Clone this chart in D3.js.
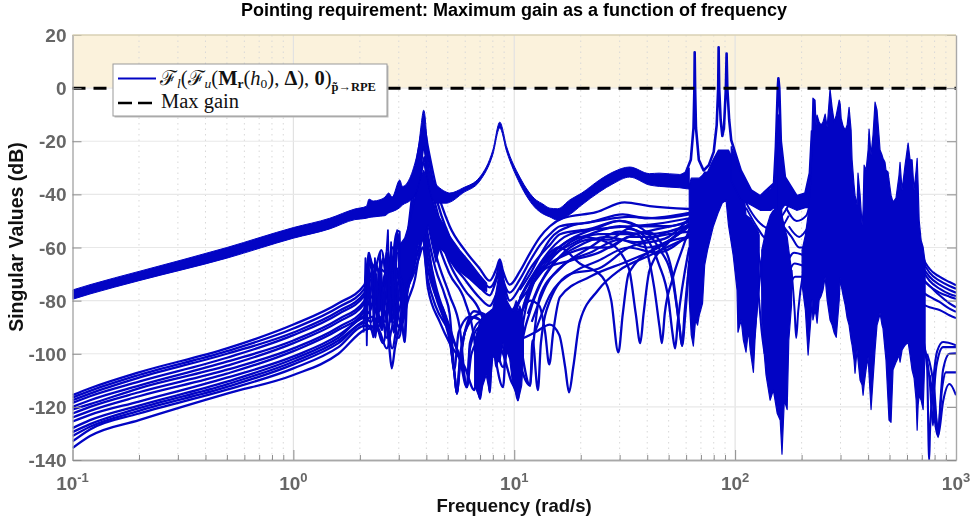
<!DOCTYPE html>
<html>
<head>
<meta charset="utf-8">
<script src="https://cdn.jsdelivr.net/npm/d3@7"></script>
<style>
  body { margin: 0; background: #fff; }
  svg { display: block; filter: blur(0.35px); }
  text { font-family: "Liberation Sans", sans-serif; }
  .tick-label { font-size: 19px; font-weight: bold; fill: #666; }
  .tick-label .sup { font-size: 13px; }
  .axis-title { font-weight: bold; fill: #111; }
  .legend-text { font-family: "Liberation Serif", "DejaVu Serif", serif; font-size: 20.5px; fill: #111; }
</style>
</head>
<body>
<script>
const margin = { top: 35, bottom: 62, left: 72.5, right: 16 };
const width = 972 - margin.left - margin.right;
const height = 522 - margin.top - margin.bottom;
const blue = '#0204c4';

const titleText = 'Pointing requirement: Maximum gain as a function of frequency';
const xLabelText = 'Frequency (rad/s)';
const yLabelText = 'Singular Values (dB)';
const yTicks = [20, 0, -20, -40, -60, -80, -100, -120, -140];
const xDecades = [-1, 0, 1, 2, 3];
const maxGain = 0;

// main band: [freq, top dB, bottom dB]
const upperBand = [
  [0.1, -76, -79.5], [0.12, -74, -77.5], [0.2, -69, -72.5], [0.5, -60, -64], [1, -52.5, -56.5],
  [1.46, -49, -53], [1.9, -45.5, -49.5], [2.14, -44.5, -49], [2.2, -41.8, -48.7], [2.3, -42.5, -48.5],
  [2.47, -42, -48.2], [2.6, -41, -48], [2.7, -39.5, -47], [2.8, -41, -46.5], [3.03, -34.6, -45],
  [3.12, -37, -44], [3.36, -34, -42.5], [3.5, -30, -41], [3.7, -21, -36], [3.8, -13, -30],
  [3.85, -9.5, -24], [3.89, -8.3, -22], [3.93, -9.5, -24], [4.02, -19, -32], [4.15, -31, -39],
  [4.45, -36.5, -43.3], [4.6, -37.6, -43.3], [4.95, -39.2, -43.3], [5.1, -39.5, -43], [5.85, -37.6, -39.5],
  [6.98, -33.5, -35], [8, -23.3, -25], [8.6, -12.8, -15], [9.25, -22.2, -24], [10.6, -33.5, -36],
  [12.6, -42.2, -45.5], [13.4, -43.5, -47.2], [14.5, -45.2, -48.5], [15.7, -45.4, -49.7], [17.9, -42, -47.5],
  [20.2, -39.5, -44], [24.4, -34.5, -39], [28, -31.6, -36], [33.3, -29.7, -33.5], [41, -32.2, -36.5],
  [45.4, -32, -37], [56, -32.5, -37.5], [62, -30, -38]
];

// top line with the four narrow resonances
const spikeLine = [
  [60, -31.5], [63, -27], [64.8, -15], [65.4, 0], [65.6, 13.5], [65.9, 0], [66.5, -15], [68.5, -27], [72, -31],
  [76, -29], [80, -24], [82.5, -14], [83.8, 0], [84.2, 15.4], [84.7, 0], [86, -12], [87.5, -18], [89, -15],
  [90.8, 0], [91.5, 13], [92.2, 0], [94, -12], [96, -19.6], [106, -31], [118, -38.5], [130, -40.7], [150, -35.9],
  [153, -22], [156, 0], [157, 3.7], [158.5, 0], [161, -20], [168, -33.5], [190, -40.7], [208, -39.7], [218, -32], [223, -16]
];

// solid regions where the curves pile up: [freq, top dB, bottom dB]
const corePeak = [
  [3.03, -59, -70], [3.19, -56.5, -74], [3.36, -50.5, -72], [3.54, -42, -66.6], [3.66, -36.5, -59], [3.89, -31, -57],
  [4.06, -34.6, -51.6], [4.24, -42, -59], [4.42, -46.7, -65.5], [4.6, -49, -60], [4.85, -52, -62], [5.1, -55.7, -65],
  [5.66, -61, -69], [6.29, -65.5, -72], [6.98, -70.4, -75.5], [7.5, -73.4, -76.5]
];
const coreMid = [
  [6.62, -95, -112], [6.98, -88, -117], [7.2, -86, -112], [7.46, -85, -108], [7.74, -84, -114.5], [8, -83, -101],
  [8.3, -76, -102], [8.45, -72, -103], [8.6, -64.5, -103], [8.9, -70, -96], [9.06, -76, -105], [9.25, -80, -99],
  [9.54, -82, -102], [9.85, -84, -112], [10.2, -80, -115], [10.4, -84, -117.5], [10.6, -82, -115], [10.8, -84, -112], [11, -90, -102]
];
const coreSpikes = [
  [62, -36.5, -79.8], [63.3, -33.9, -93], [64.7, -33.9, -97.1], [66.2, -33.9, -87.3], [67.6, -33.9, -89.2],
  [68.8, -33.9, -85.5], [71.2, -32.8, -81], [72.8, -31.6, -66.6], [75, -31.6, -61], [79.5, -27, -52.3],
  [84, -23.3, -46.7], [87.4, -23.3, -43.3], [91, -23.3, -42.2], [93.3, -23.3, -51.6], [98, -27, -62.9],
  [102, -32.8, -76], [103, -32.8, -91.9], [106.5, -34.6, -87.3], [109, -36.5, -94.9], [112, -47.8, -99.4],
  [115, -48.5, -91.1], [117, -49, -98.6], [121, -51, -107], [123, -52, -94.9], [126, -53, -81.7], [128.5, -55.3, -74.2]
];
const coreValleyLeft = [
  [96, -22, -35], [106, -31, -42], [118, -38.5, -44], [130, -40.7, -46], [145, -38, -46], [150, -36, -45], [153, -24, -48], [157, -12, -50]
];
const coreValleyRight = [
  [157, -12, -50], [161, -22, -46], [168, -33.5, -44], [190, -40.7, -46], [208, -39.7, -45], [218, -32, -45], [223, -16, -45]
];
const coreMiddle = [
  [132, -61, -87.3], [135, -57.2, -98.6], [138, -53, -108], [144, -48, -117.5], [149, -46, -113.7],
  [155, -46, -122.4], [160, -46, -125], [163, -48, -137.8], [167, -52, -117.5], [172, -56, -121],
  [175, -61, -94.9], [180, -68.5, -81.7]
];
const coreCluster = [
  [201, -61, -74.2], [208, -55.3, -83.6], [214, -47.8, -100.5], [221, -32.8, -85.5], [223, -15.8, -79.8],
  [225, -3.8, -87.3], [230, -4.5, -83.6], [232.5, -13.9, -85.5], [235, -10.2, -88.5], [240, -12.8, -79.8],
  [245, -13.9, -78.3], [250, -12.8, -76], [255.6, -9.8, -71.2], [261, -14.7, -79.8], [269, -0.4, -87.3],
  [275, -7.5, -89.2], [281, -12.8, -92.2], [287, -10.2, -93.8], [296, -4.5, -79.8], [299, -6, -71.5],
  [302, -11.3, -74.2], [308, -14.3, -77.9], [315, -15.8, -81.7], [321.5, -13.9, -86.6], [328, -7.2, -89.2],
  [335, -15.8, -94.9], [338.5, -27, -96.8], [345.5, -36.5, -102.4], [349, -40.3, -107.3], [356.5, -44, -98.6],
  [360, -32, -102.4], [368, -40.3, -110], [375.7, -51.6, -111.8], [379.6, -45.9, -115.6], [383.6, -29, -111.8],
  [391.6, -30.9, -106], [400, -23.3, -101.3], [404, -15.4, -108], [412.5, -25.2, -121], [421, -17.7, -110],
  [430, -5.3, -98.6], [439, -8.3, -89.2], [448, -17.7, -86.6], [453, -23.3, -84.7], [462.5, -25.2, -89.2],
  [467, -26.4, -90.4], [477, -27.9, -98.6], [482, -30.9, -102.4], [492.3, -31.6, -117.5], [497.5, -34.6, -125],
  [508, -40.3, -125.8], [518.7, -42.9, -106], [535, -41.4, -103.2], [540.8, -38.4, -102.4], [552, -32.8, -100.5],
  [558, -27.9, -103.2], [570, -38.4, -98.6], [588, -29, -96.8], [607, -20.7, -95.6], [619.5, -27, -100.5],
  [632.6, -27, -106.2], [646, -38.4, -109.2], [660, -30.9, -117.5], [667, -26.4, -128.8], [673.8, -36.5, -119.4],
  [681, -49.7, -115.6], [695, -57.2, -117.5], [710, -59.9, -121], [724.7, -65.5, -98.6]
];

// lower family, low frequency part: one row per curve
const lowFreq = [0.1, 0.12, 0.2, 0.5, 1, 1.6, 2.1];
const lowCurves = [
  [-115.6, -113, -107, -98, -89, -81, -74],
  [-116.5, -114, -108, -99, -90.5, -82.5, -75.5],
  [-117.5, -115, -109, -100, -92, -84, -77],
  [-118.5, -116, -110.5, -101.5, -93, -85, -78],
  [-120, -117.5, -112, -103, -95, -87, -80],
  [-121, -119, -113, -104.5, -96, -88, -81],
  [-122.5, -120, -114.5, -106, -98, -90, -83],
  [-124, -121.5, -116, -107.5, -99, -91, -84],
  [-125.5, -123, -118, -109, -101, -93, -85.5],
  [-128, -125, -119.5, -110.5, -102, -94, -86.5],
  [-129.5, -126.5, -120.5, -111.5, -103, -95, -87.5],
  [-131, -127.5, -121.5, -112.5, -104, -96, -88.5],
  [-133, -128.5, -122.5, -113.5, -105.5, -97.5, -89.5],
  [-135.5, -131, -125, -115, -108, -100, -91]
];
// same curves above 2 rad/s: [freq, dB]
const midCurves = [
  [[2.2, -62], [2.3, -70], [2.5, -61], [2.7, -75], [2.95, -54], [3.1, -70], [3.3, -54], [3.55, -32], [3.75, -20], [3.89, -14], [4.06, -22], [4.4, -36], [5.1, -52], [5.97, -61], [6.98, -68], [7.74, -72.5], [8.3, -68], [8.6, -64.5], [8.9, -69], [9.54, -74], [10.6, -69], [11.8, -62], [13.1, -56], [14.5, -52], [16.6, -49], [23.5, -46.7], [31.6, -43], [41, -44.4], [62, -45.5]],
  [[2.2, -72], [2.35, -66], [2.6, -80], [2.8, -60], [3, -72], [3.25, -58], [3.55, -38], [3.75, -24], [3.89, -18], [4.06, -25], [4.4, -40], [5.1, -56], [5.97, -65], [6.98, -71], [7.74, -75], [8.3, -71], [8.6, -66], [8.9, -72], [9.54, -77], [10.6, -72], [11.8, -65], [13.1, -59], [14.5, -55], [16.1, -52], [22, -50.5], [31, -47.5], [40, -49], [62, -47]],
  [[2.22, -64], [2.4, -78], [2.55, -64], [2.72, -84], [2.95, -56], [3.15, -76], [3.35, -56], [3.6, -40], [3.8, -27], [3.89, -22], [4.06, -30], [4.4, -44], [5.1, -60], [5.97, -69], [6.98, -75], [7.74, -78], [8.6, -70], [9.54, -80], [10.6, -75], [11.8, -68], [13.1, -63], [14.5, -59], [16.1, -55], [22, -53], [30, -50], [38, -53], [45, -60], [52, -72], [56, -90], [57.5, -97], [59.5, -85], [62, -65]],
  [[2.25, -70], [2.35, -93.8], [2.45, -68], [2.7, -70], [2.95, -62], [3.19, -95.6], [3.3, -70], [3.6, -44], [3.85, -29], [3.92, -26], [4.06, -34], [4.4, -47], [5.1, -64], [5.97, -72], [6.98, -79], [7.74, -82], [8.6, -76], [9.54, -84], [10.6, -80], [11.8, -75], [13.1, -70], [14.5, -65], [17.9, -58], [22, -55], [30, -52], [38, -55], [45, -66], [50, -80], [52, -92], [53.5, -98], [55, -88], [62, -60]],
  [[2.2, -66], [2.35, -76], [2.52, -91], [2.65, -62], [2.75, -82], [2.95, -58], [3.1, -78], [3.3, -56], [3.6, -42], [3.8, -30], [3.89, -28], [4.06, -36], [4.4, -50], [5.1, -66], [5.97, -76], [6.98, -84], [7.5, -92], [7.74, -114.5], [7.95, -95], [8.6, -86], [9.54, -90], [10.05, -112], [10.3, -95], [11.2, -80], [12.4, -70], [14.5, -63], [17.9, -57], [24, -52.5], [30, -50], [38, -52], [50, -52], [62, -50]],
  [[2.2, -78], [2.4, -68], [2.6, -85], [2.8, -65], [3, -80], [3.2, -62], [3.6, -45], [3.85, -33], [4.06, -42], [4.4, -55], [5.1, -70], [5.97, -80], [6.6, -95], [7, -117], [7.3, -100], [8, -88], [8.6, -80], [9.54, -92], [10.4, -117.5], [10.7, -100], [11.8, -84], [13.1, -74], [14.5, -68], [17.9, -60], [22, -57], [27, -57], [33, -53], [41, -55], [50, -54], [62, -52]],
  [[2.25, -72], [2.45, -84], [2.6, -70], [2.8, -88], [2.95, -68], [3.15, -84], [3.35, -64], [3.6, -50], [3.85, -38], [4.06, -48], [4.4, -62], [5.1, -78], [5.66, -90], [6.1, -112.6], [6.3, -98], [7, -90], [7.7, -92], [8.9, -112.6], [9.2, -95], [10, -85], [11.8, -72], [14.5, -66], [17.9, -62], [22, -60], [27, -60], [33, -56], [41, -56], [50, -55], [62, -54]],
  [[2.3, -78], [2.5, -90], [2.7, -72], [2.85, -92], [3, -72], [3.2, -80], [3.4, -62], [3.65, -52], [3.85, -42], [4.06, -55], [4.4, -68], [4.85, -78], [5.1, -85], [5.37, -108], [5.5, -115], [5.66, -104], [5.97, -92], [6.6, -84], [7.3, -85], [8, -90], [8.3, -105], [8.6, -92], [10, -88], [11.8, -112], [12.1, -100], [13.1, -78], [16.1, -68], [22, -60], [30, -54], [36, -55], [40, -62], [43, -75], [45.5, -90], [46.6, -96], [48, -85], [52, -72], [58, -60], [64, -50]],
  [[2.22, -84], [2.4, -74], [2.6, -88], [2.8, -76], [3, -90], [3.2, -70], [3.45, -60], [3.7, -52], [3.85, -46], [4.06, -60], [4.4, -74], [5.1, -90], [5.7, -103], [6.1, -112.6], [6.4, -100], [7, -95], [8, -95], [8.9, -105], [9.5, -92], [10.6, -80], [12.4, -70], [15, -62], [19.8, -56], [27, -58.4], [33, -67.8], [35.5, -85], [37.2, -96], [38.5, -85], [41, -68.5], [50, -58], [62, -51]],
  [[2.25, -88], [2.45, -80], [2.65, -94], [2.85, -76], [3.05, -88], [3.25, -74], [3.5, -62], [3.7, -56], [3.85, -50], [4.06, -64], [4.4, -78], [4.85, -88], [5.1, -95], [5.37, -108], [5.5, -115], [5.7, -100], [6.3, -88], [7, -85], [8, -90], [9, -95], [10.05, -105], [10.4, -112], [10.7, -95], [12.4, -72], [14.5, -62], [16, -60], [19.8, -66], [25, -71], [27.5, -80], [29.6, -99.5], [31, -85], [33, -69.7], [44, -60], [62, -56]],
  [[2.3, -86], [2.55, -96], [2.75, -80], [3, -94], [3.2, -80], [3.5, -68], [3.7, -60], [3.85, -55], [4.06, -68], [4.4, -78], [4.85, -85], [5.1, -94], [5.37, -108], [5.5, -115], [5.66, -106], [5.97, -92], [6.6, -86], [7.5, -90], [8.6, -95], [10, -95], [12.4, -92], [14.5, -89], [16, -93], [17, -105], [17.7, -114.5], [18.5, -105], [19.8, -88], [24, -76], [30, -68.5], [41, -63], [62, -56]],
  [[2.35, -92], [2.6, -84], [2.8, -98], [3, -84], [3.25, -76], [3.5, -70], [3.7, -64], [3.85, -60], [4.06, -72], [4.4, -82], [5.1, -92], [5.8, -104], [6.1, -112.6], [6.3, -96], [7, -88], [8, -90], [9.5, -90], [10.6, -85], [11.8, -80], [13, -82], [13.8, -92], [14.4, -104], [15, -92], [16.1, -78.7], [22, -71], [33, -65], [45, -60], [62, -52]],
  [[2.4, -90], [2.65, -98], [2.85, -88], [3.05, -90], [3.3, -80], [3.55, -72], [3.75, -60], [3.85, -56], [4.06, -75], [4.6, -88], [5.1, -96], [5.97, -105], [6.6, -113.7], [6.9, -100], [7.7, -90], [8.9, -100], [10, -112], [10.3, -95], [11.8, -76], [13.8, -68], [17.9, -65], [24, -62], [33, -56], [40, -54], [46, -58], [52, -70], [56, -90], [57.5, -97], [59, -85], [64, -55]],
  [[2.3, -90], [2.6, -85], [2.72, -98], [2.79, -105.5], [2.88, -98], [3.2, -82], [3.4, -70], [3.6, -60], [3.8, -50], [3.89, -48], [4.06, -58], [4.3, -72], [4.7, -84], [5.1, -93], [5.35, -106], [5.6, -92], [6.3, -86], [7.5, -88], [9, -88], [11.8, -112], [12.1, -95], [12.8, -113.7], [13.2, -96], [14.5, -80], [17.9, -70], [24, -68], [33, -60], [50, -56], [62, -49]]
];

// extra plateau curves rising out of the 10 rad/s notches
const plateauCurves = [
  [[10.6, -76], [11.8, -70], [13.1, -63], [14.5, -57], [17.9, -52], [24, -50], [33, -48.5], [45, -49], [62, -47.5]],
  [[10.6, -79], [11.8, -72], [13.1, -66], [14.5, -61], [17.9, -55], [24, -53], [33, -52], [45, -51], [62, -49]],
  [[11, -82], [12.4, -72], [14.5, -64], [17.9, -59], [24, -55], [33, -55], [45, -53], [62, -50.5]],
  [[11.5, -85], [13, -74], [15, -66], [19, -60], [26, -56], [36, -58], [50, -54], [62, -51.5]],
  [[12, -88], [14, -74], [17, -66], [22, -62], [30, -57], [40, -60], [60, -53]],
  [[12.4, -92], [14.5, -78], [18, -70], [24, -65], [33, -60], [44, -62], [62, -55]]
];

// zigzag columns between 2 and 3.3 rad/s
const jitterLines = [
  [[2.08, -92], [2.12, -64], [2.15, -96.8], [2.19, -62], [2.24, -90], [2.3, -93.8], [2.34, -64], [2.42, -88], [2.47, -62], [2.52, -91], [2.6, -70], [2.68, -53.5], [2.74, -88], [2.79, -70], [2.86, -85], [2.95, -53.5], [3.03, -54], [3.1, -88], [3.19, -95.6], [3.27, -60]],
  [[2.1, -78], [2.14, -90], [2.18, -70], [2.22, -86], [2.27, -66], [2.32, -88], [2.38, -70], [2.44, -84], [2.5, -68], [2.56, -84], [2.64, -62], [2.71, -80], [2.77, -58], [2.83, -82], [2.9, -60], [2.98, -84], [3.06, -62], [3.14, -84], [3.22, -66]]
];

// thinner arcs under the resonance valleys and the bubble around 190 rad/s
const valleyArcs = [
  [[105, -38], [117, -46], [130, -51], [144, -53], [157, -50], [175, -44]],
  [[112, -45], [125, -52], [140, -57], [155, -55], [175, -48]],
  [[150, -55], [155, -30], [157, -10], [159, -30], [165, -55]],
  [[170, -45], [190, -50], [210, -48], [222, -40]],
  [[175, -52], [195, -56], [215, -52]],
  [[165, -52], [180, -56], [195, -60], [212, -60]],
  [[165, -70], [185, -62], [205, -63]],
  [[168, -74], [186, -66], [205, -67]],
  [[172, -78], [187, -71], [204, -71]],
  [[180, -68.5], [186, -84], [189, -94], [193, -84], [204, -68.5]],
  [[118, -60], [126, -72], [132, -92], [136, -100]],
  [[122, -58], [130, -66], [134, -80], [137, -95]],
  [[120, -100], [126, -82], [132, -65], [140, -58]]
];

// falling curves at the right end
const tailFreq = [667, 688, 710, 759, 842, 934, 1000];
const tailCurves = [
  [-52, -58, -63.6, -68, -71, -73, -74.2],
  [-58, -63, -65.5, -69.5, -72.5, -74.5, -75.5],
  [-62, -65, -67.5, -71, -74, -76, -77],
  [-65, -67, -69, -72.5, -75.5, -77.5, -78.3],
  [-70, -71, -72, -74.5, -77, -78.5, -79.3],
  [-70, -71.5, -72.5, -74.5, -78, -81, -82.5],
  [-74, -76, -77, -78.5, -80.5, -83, -84.2],
  [-79, -81, -81.5, -82.5, -83.5, -85.5, -86.6]
];
const lowTails = [
  [[684, -90], [740, -105], [752, -135], [756, -140], [762, -130], [780, -116], [822, -99], [874, -95.6], [1000, -96.8]],
  [[700, -95], [760, -110], [787, -127], [800, -112], [822, -103], [874, -97.5], [1000, -97.5]],
  [[740, -100], [800, -115], [830, -131.4], [850, -118], [874, -106], [934, -100], [1000, -99.8]],
  [[760, -108], [800, -120], [830, -128], [866, -112.6], [900, -107], [1000, -107]],
  [[780, -115], [830, -131], [874, -118], [934, -111.4], [1000, -115.6]]
];

const svg = d3.select('body').append('svg')
  .attr('width', 972)
  .attr('height', 522);
const root = svg.append('g').attr('transform', `translate(${margin.left},${margin.top})`);

const xscale = d3.scaleLog().domain([0.1, 1000]).range([0, width]);
const yscale = d3.scaleLinear().domain([-140, 20]).range([height, 0]);

// minor ticks 2..9 per decade
const xMajor = xDecades.map((d) => Math.pow(10, d));
const xMinor = [];
xDecades.slice(0, -1).forEach((d) => {
  d3.range(2, 10).forEach((m) => xMinor.push(m * Math.pow(10, d)));
});

//shaded area above the limit
root.append('rect')
  .attr('x', 0)
  .attr('y', yscale(20))
  .attr('width', width)
  .attr('height', yscale(maxGain) - yscale(20))
  .attr('fill', '#fbf2dc');

//grid
root.append('g').selectAll('line').data(xMinor).enter().append('line')
  .attr('x1', xscale).attr('x2', xscale)
  .attr('y1', 0).attr('y2', height)
  .attr('stroke', '#d8d8d8')
  .attr('stroke-width', 1)
  .attr('stroke-dasharray', '1.5,4');
root.append('g').selectAll('line').data(xMajor.slice(1, -1)).enter().append('line')
  .attr('x1', xscale).attr('x2', xscale)
  .attr('y1', 0).attr('y2', height)
  .attr('stroke', '#e2e2e2')
  .attr('stroke-width', 1.2);
root.append('g').selectAll('line').data(yTicks.slice(1, -1)).enter().append('line')
  .attr('x1', 0).attr('x2', width)
  .attr('y1', yscale).attr('y2', yscale)
  .attr('stroke', '#e8e8e8')
  .attr('stroke-width', 1.2);

//curves
svg.append('defs').append('clipPath').attr('id', 'plot')
  .append('rect').attr('width', width).attr('height', height);
const chart = root.append('g').attr('clip-path', 'url(#plot)');

const line = d3.line()
  .x((d) => xscale(d[0]))
  .y((d) => yscale(d[1]))
  .curve(d3.curveMonotoneX);
const spikes = d3.line()
  .x((d) => xscale(d[0]))
  .y((d) => yscale(d[1]));
const bandArea = d3.area()
  .x((d) => xscale(d[0]))
  .y0((d) => yscale(d[2]))
  .y1((d) => yscale(d[1]));

const drawLines = (rows, gen, w) => {
  chart.append('g').selectAll('path').data(rows).enter().append('path')
    .attr('d', gen)
    .attr('fill', 'none')
    .attr('stroke', blue)
    .attr('stroke-width', w)
    .attr('stroke-linejoin', 'round');
};

const familyCurves = lowCurves.map((row, i) =>
  row.map((v, j) => [lowFreq[j], v]).concat(midCurves[i]));
drawLines(familyCurves, line, 2.3);
drawLines(plateauCurves, line, 2.2);
drawLines(jitterLines, spikes, 1.8);
drawLines(valleyArcs, line, 2);
drawLines(tailCurves.map((row) => row.map((v, j) => [tailFreq[j], v])), line, 2.1);
drawLines(lowTails, line, 2.1);

[corePeak, coreMid, coreSpikes, coreValleyLeft, coreValleyRight, coreMiddle, coreCluster].forEach((rows) => {
  chart.append('path').datum(rows)
    .attr('d', bandArea)
    .attr('fill', blue)
    .attr('stroke', blue)
    .attr('stroke-width', 1.2)
    .attr('stroke-linejoin', 'round');
});

chart.append('path').datum(upperBand)
  .attr('d', bandArea.curve(d3.curveMonotoneX))
  .attr('fill', blue)
  .attr('stroke', blue)
  .attr('stroke-width', 1);
drawLines([spikeLine], spikes, 2.6);

//limit line
root.append('line')
  .attr('x1', 0).attr('x2', width)
  .attr('y1', yscale(maxGain)).attr('y2', yscale(maxGain))
  .attr('stroke', '#000')
  .attr('stroke-width', 3)
  .attr('stroke-dasharray', '13,8');

//axes
const xaxis = d3.axisBottom(xscale).tickValues(xMajor).tickSizeInner(-10).tickSizeOuter(0).tickFormat('');
const xaxisMinor = d3.axisBottom(xscale).tickValues(xMinor).tickSizeInner(-5).tickSizeOuter(0).tickFormat('');
const yaxis = d3.axisLeft(yscale).tickValues(yTicks).tickSizeInner(-9).tickSizeOuter(0).tickFormat('');
const yaxisRight = d3.axisRight(yscale).tickValues(yTicks).tickSizeInner(-9).tickSizeOuter(0).tickFormat('');

const styleAxis = (g) => {
  g.selectAll('path').attr('stroke', '#a8a8a8').attr('stroke-width', 1.4);
  g.selectAll('line').attr('stroke', '#8c8c8c').attr('stroke-width', 1);
};
root.append('g').attr('transform', `translate(0,${height})`).call(xaxis).call(styleAxis);
root.append('g').attr('transform', `translate(0,${height})`).call(xaxisMinor).call(styleAxis);
root.append('g').call(yaxis).call(styleAxis);
root.append('g').attr('transform', `translate(${width},0)`).call(yaxisRight).call(styleAxis);
root.append('line')
  .attr('x1', 0).attr('x2', width)
  .attr('y1', 0).attr('y2', 0)
  .attr('stroke', '#d9d0b4')
  .attr('stroke-width', 1.4);

//tick labels
root.append('g').selectAll('text').data(yTicks).enter().append('text')
  .attr('class', 'tick-label')
  .attr('x', -6)
  .attr('y', (d) => yscale(d) + 7)
  .attr('text-anchor', 'end')
  .text((d) => d);
const xLabels = root.append('g').selectAll('text').data(xDecades).enter().append('text')
  .attr('class', 'tick-label')
  .attr('x', (d) => xscale(Math.pow(10, d)))
  .attr('y', height + 30)
  .attr('text-anchor', 'middle');
xLabels.append('tspan').text('10');
xLabels.append('tspan').attr('class', 'sup').attr('dy', -8).text((d) => d);

//titles
svg.append('text')
  .attr('x', 514).attr('y', 16)
  .attr('text-anchor', 'middle')
  .attr('font-size', 18)
  .attr('font-weight', 'bold')
  .attr('fill', '#000')
  .text(titleText);
svg.append('text').attr('class', 'axis-title')
  .attr('x', 514).attr('y', 512)
  .attr('font-size', 18.5)
  .attr('text-anchor', 'middle')
  .text(xLabelText);
svg.append('text').attr('class', 'axis-title')
  .attr('transform', 'translate(23,237) rotate(-90)')
  .attr('font-size', 19.5)
  .attr('text-anchor', 'middle')
  .text(yLabelText);

//legend
const legend = svg.append('g');
legend.append('rect')
  .attr('x', 114.5).attr('y', 65.5)
  .attr('width', 274).attr('height', 52)
  .attr('fill', '#bbb');
legend.append('rect')
  .attr('x', 113).attr('y', 64)
  .attr('width', 274).attr('height', 52)
  .attr('fill', '#fff')
  .attr('stroke', '#9a9a9a')
  .attr('stroke-width', 1);
legend.append('line')
  .attr('x1', 118).attr('x2', 156).attr('y1', 78.5).attr('y2', 78.5)
  .attr('stroke', blue).attr('stroke-width', 2.2);
legend.append('line')
  .attr('x1', 118).attr('x2', 152).attr('y1', 103).attr('y2', 103)
  .attr('stroke', '#000').attr('stroke-width', 2.6)
  .attr('stroke-dasharray', '14,6');

const mathText = legend.append('text').attr('class', 'legend-text')
  .attr('x', 160).attr('y', 85);
const addMath = (str, opts) => {
  const o = opts || {};
  mathText.append('tspan')
    .attr('dy', o.dy || 0)
    .attr('font-size', o.size || null)
    .attr('font-style', o.italic ? 'italic' : null)
    .attr('font-weight', o.bold ? 'bold' : null)
    .text(str);
};
addMath('ℱ');
addMath('l', { italic: true, size: 13.5, dy: 3 });
addMath('(', { dy: -3 });
addMath('ℱ');
addMath('u', { italic: true, size: 13.5, dy: 3 });
addMath('(', { dy: -3 });
addMath('M', { bold: true });
addMath('r', { bold: true, size: 13.5, dy: 3 });
addMath('(', { dy: -3 });
addMath('h', { italic: true });
addMath('0', { size: 13.5, dy: 3 });
addMath('), ', { dy: -3 });
addMath('Δ', { bold: true });
addMath('), ');
addMath('0', { bold: true });
addMath(')');
addMath('p̃→RPE', { bold: true, size: 12.5, dy: 6 });

legend.append('text').attr('class', 'legend-text')
  .attr('x', 161).attr('y', 108)
  .attr('font-size', 19.6)
  .text('Max gain');
</script>
</body>
</html>
